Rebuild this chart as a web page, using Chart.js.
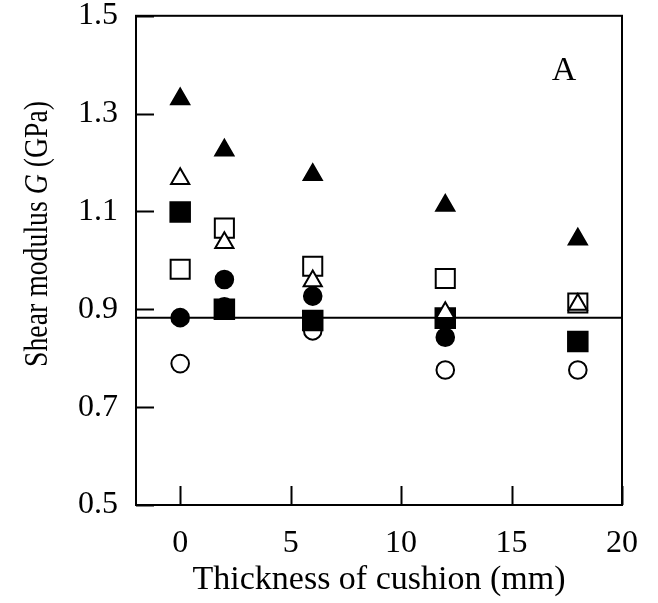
<!DOCTYPE html>
<html>
<head>
<meta charset="utf-8">
<script src="https://cdn.jsdelivr.net/npm/chart.js@4/dist/chart.umd.min.js"></script>
<style>
    html, body { margin: 0; padding: 0; background: #fff; }
    #wrap { width: 658px; height: 603px; }
</style>
</head>
<body>
<div id="wrap"><canvas id="chart" width="658" height="603"></canvas></div>
<script>
// cushion thickness (mm)
const thickness = [0, 2, 6, 12, 18];

// shear modulus G (GPa) per marker type
const filledTriangle = [1.33, 1.225, 1.175, 1.112, 1.043];
const openTriangle = [1.167, 1.036, 0.958, 0.893, 0.91];
const openSquare = [0.982, 1.066, 0.988, 0.963, 0.913];
const filledSquare = [1.099, 0.90, 0.877, 0.882, 0.834];
const filledCircle = [0.883, 0.961, 0.927, 0.843, 0.835];
const openCircle = [0.789, 0.905, 0.856, 0.776, 0.776];

// horizontal reference line
const refLineX = [-2, 20];
const refLineY = [0.883, 0.883];

const xTicks = [0, 5, 10, 15, 20];
const yTicks = [0.5, 0.7, 0.9, 1.1, 1.3, 1.5];

const SERIF = '"Liberation Serif", "DejaVu Serif", serif';

function pts(xs, ys) {
    return xs.map((x, i) => ({ x: x, y: ys[i] }));
}

function markerSet(label, ys, style, filled, radius, order) {
    return {
        label: label,
        data: pts(thickness, ys),
        showLine: false,
        pointStyle: style,
        pointRadius: radius,
        pointHoverRadius: radius,
        pointBorderWidth: 2,
        pointBorderColor: '#000',
        pointBackgroundColor: filled ? '#000' : '#fff',
        order: order
    };
}

// frame, inward ticks, y title and panel letter
const decorations = {
    id: 'decorations',
    afterDraw(chart) {
        const ctx = chart.ctx;
        const a = chart.chartArea;
        const xs = chart.scales.x;
        const ys = chart.scales.y;
        ctx.save();
        ctx.strokeStyle = '#000';
        ctx.lineWidth = 2;
        ctx.strokeRect(a.left, a.top, a.right - a.left, a.bottom - a.top);

        ctx.beginPath();
        yTicks.forEach(v => {
            const py = Math.round(ys.getPixelForValue(v)) + 0.5;
            ctx.moveTo(a.left, py);
            ctx.lineTo(a.left + 18, py);
        });
        xTicks.forEach(v => {
            const px = Math.round(xs.getPixelForValue(v)) + 0.5;
            ctx.moveTo(px, a.bottom);
            ctx.lineTo(px, a.bottom - 19);
        });
        ctx.stroke();

        // y axis title with italic G, squeezed along its length like the original
        const parts = [
            { t: 'Shear modulus ', f: '34px ' + SERIF },
            { t: 'G', f: 'italic 34px ' + SERIF },
            { t: ' (GPa)', f: '34px ' + SERIF }
        ];
        let total = 0;
        parts.forEach(p => { ctx.font = p.f; p.w = ctx.measureText(p.t).width; total += p.w; });
        ctx.translate(47, 234);
        ctx.rotate(-Math.PI / 2);
        ctx.scale(266 / total, 1);
        ctx.fillStyle = '#000';
        ctx.textBaseline = 'alphabetic';
        ctx.textAlign = 'left';
        let cx = -total / 2;
        parts.forEach(p => { ctx.font = p.f; ctx.fillText(p.t, cx, 0); cx += p.w; });
        ctx.restore();

        ctx.save();
        ctx.font = '34px ' + SERIF;
        ctx.fillStyle = '#000';
        ctx.textAlign = 'center';
        ctx.textBaseline = 'middle';
        ctx.fillText('A', 564, 71);
        ctx.restore();
    }
};

new Chart(document.getElementById('chart'), {
    type: 'scatter',
    data: {
        datasets: [
            markerSet('open triangle', openTriangle, 'triangle', false, 10.5, 1),
            markerSet('open square', openSquare, 'rect', false, 13.5, 2),
            markerSet('filled square', filledSquare, 'rect', true, 13.8, 3),
            markerSet('filled circle', filledCircle, 'circle', true, 8.8, 4),
            markerSet('open circle', openCircle, 'circle', false, 8.8, 5),
            markerSet('filled triangle', filledTriangle, 'triangle', true, 10.5, 6),
            {
                label: 'reference',
                data: pts(refLineX, refLineY),
                showLine: true,
                borderColor: '#000',
                borderWidth: 2,
                pointRadius: 0,
                order: 7
            }
        ]
    },
    options: {
        responsive: false,
        animation: false,
        layout: { padding: { top: 13, right: 36, left: 0, bottom: 0 } },
        plugins: {
            legend: { display: false },
            tooltip: { enabled: false }
        },
        scales: {
            x: {
                type: 'linear',
                min: -2,
                max: 20,
                afterBuildTicks: s => { s.ticks = xTicks.map(v => ({ value: v })); },
                afterFit: s => { s.height = 98; s.paddingLeft = 0; s.paddingRight = 0; },
                grid: { display: false, drawTicks: false },
                border: { display: false },
                ticks: {
                    color: '#000',
                    padding: 19,
                    maxRotation: 0,
                    font: { family: SERIF, size: 32 }
                },
                title: {
                    display: true,
                    text: 'Thickness of cushion (mm)',
                    color: '#000',
                    padding: { top: 0, bottom: 3 },
                    font: { family: SERIF, size: 34 }
                }
            },
            y: {
                type: 'linear',
                min: 0.5,
                max: 1.5,
                afterBuildTicks: s => { s.ticks = yTicks.map(v => ({ value: v })); },
                afterFit: s => { s.width = 136; s.paddingTop = 0; s.paddingBottom = 0; },
                grid: { display: false, drawTicks: false },
                border: { display: false },
                ticks: {
                    color: '#000',
                    padding: 18,
                    font: { family: SERIF, size: 32 },
                    callback: v => v.toFixed(1)
                }
            }
        }
    },
    plugins: [decorations]
});
</script>
</body>
</html>
